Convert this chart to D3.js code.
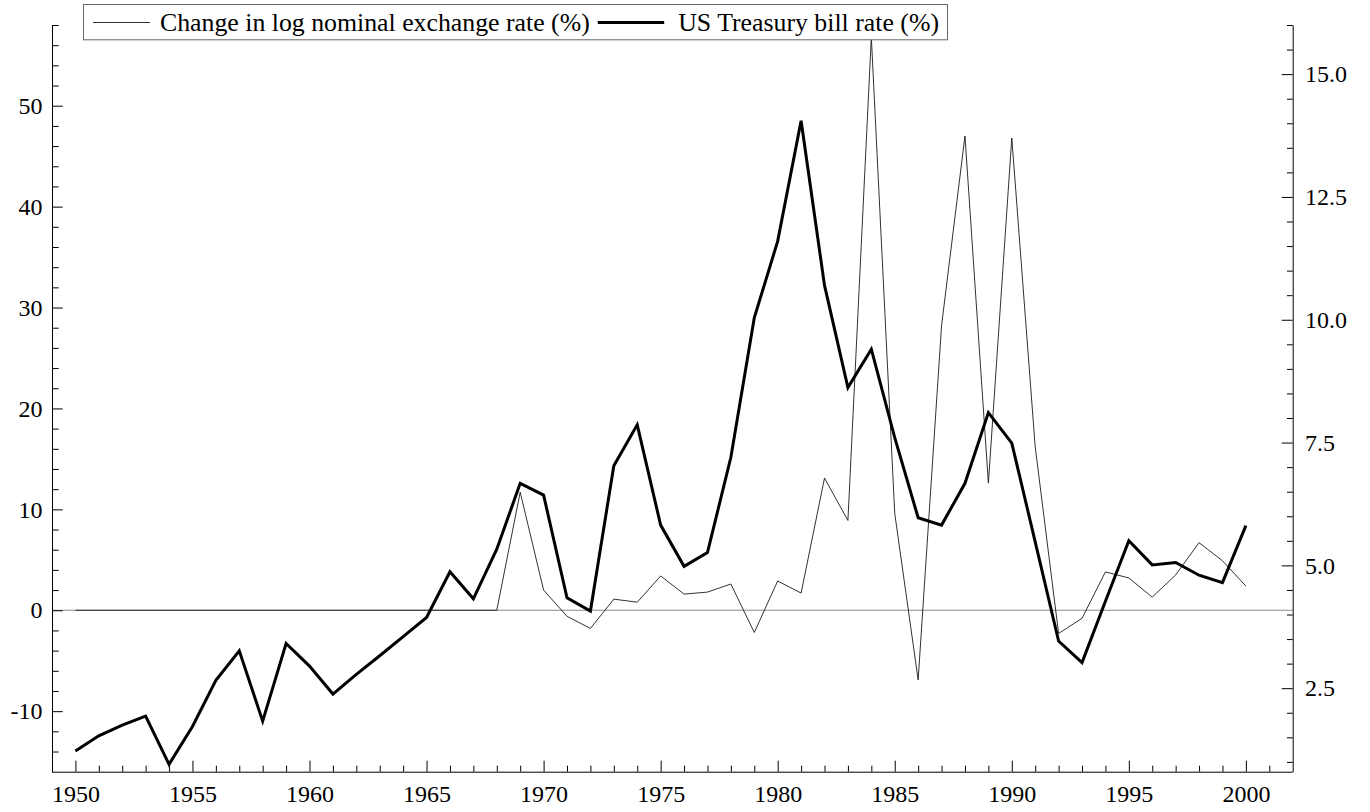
<!DOCTYPE html>
<html>
<head>
<meta charset="utf-8">
<script src="https://cdn.jsdelivr.net/npm/d3@7"></script>
<style>
  html, body { margin: 0; padding: 0; background: #fff; }
  svg { display: block; }
  text { font-family: "Liberation Serif", "Times New Roman", serif; fill: #000; }
</style>
</head>
<body>
<svg id="chart" width="1370" height="812"></svg>
<script>
// ---- data ----
const years = [1950,1951,1952,1953,1954,1955,1956,1957,1958,1959,
               1960,1961,1962,1963,1964,1965,1966,1967,1968,1969,
               1970,1971,1972,1973,1974,1975,1976,1977,1978,1979,
               1980,1981,1982,1983,1984,1985,1986,1987,1988,1989,
               1990,1991,1992,1993,1994,1995,1996,1997,1998,1999,2000];

// Change in log nominal exchange rate (%) — left axis
const exchangeChange = [0,0,0,0,0,0,0,0,0,0,
                        0,0,0,0,0,0,0,0,0,11.7,
                        2.0,-0.6,-1.8,1.1,0.8,3.4,1.6,1.8,2.6,-2.2,
                        2.9,1.7,13.1,8.9,56.8,9.6,-6.9,28.2,47.0,12.6,
                        46.8,16.2,-2.3,-0.8,3.8,3.2,1.3,3.5,6.7,4.9,2.4];

// US Treasury bill rate (%) — right axis
const tbillRate = [1.22,1.53,1.75,1.93,0.95,1.72,2.66,3.26,1.83,3.41,
                   2.95,2.38,2.78,3.16,3.55,3.94,4.87,4.32,5.33,6.67,
                   6.43,4.34,4.07,7.03,7.86,5.82,4.98,5.26,7.20,10.04,
                   11.60,14.05,10.70,8.62,9.40,7.60,5.97,5.82,6.67,8.11,
                   7.49,5.48,3.46,3.02,4.27,5.50,5.01,5.06,4.80,4.65,5.81];

const seriesNames = ["Change in log nominal exchange rate (%)", "US Treasury bill rate (%)"];

const xTicks = [1950,1955,1960,1965,1970,1975,1980,1985,1990,1995,2000];
const xTickLabels = ["1950","1955","1960","1965","1970","1975","1980","1985","1990","1995","2000"];
const leftTicks = [-10,0,10,20,30,40,50];
const leftTickLabels = ["-10","0","10","20","30","40","50"];
const rightTicks = [2.5,5,7.5,10,12.5,15];
const rightTickLabels = ["2.5","5.0","7.5","10.0","12.5","15.0"];

// ---- layout ----
const svg = d3.select("#chart");
const L = 52, R = 1292.7, T = 25, B = 771.7;

const x = d3.scaleLinear().domain([1949, 2002]).range([L, R]);
const yL = d3.scaleLinear().domain([-16, 58]).range([B, T]);
const yR = d3.scaleLinear().domain([0.8, 16]).range([B, T]);

const FS = 24;

const xMinor = years.filter(y => xTicks.indexOf(y) < 0).concat([2001]);
const leftMinor = d3.range(-14, 58.01, 2).filter(v => v % 10 !== 0);
const rightMinor = d3.range(1, 16.01, 0.5).filter(v => Math.abs(v / 2.5 - Math.round(v / 2.5)) > 1e-6);

function styleAxis(g) {
  g.attr("font-family", null).attr("font-size", null);
  g.selectAll("path.domain").attr("stroke", "#000").attr("stroke-width", 1);
  g.selectAll(".tick line").attr("stroke", "#000").attr("stroke-width", 1);
  g.selectAll(".tick text").style("font-size", FS + "px")
    .style("font-family", '"Liberation Serif", "Times New Roman", serif').attr("fill", "#000");
}

// zero line
svg.append("line")
  .attr("x1", L).attr("x2", R)
  .attr("y1", yL(0)).attr("y2", yL(0))
  .attr("stroke", "#8a8a8a").attr("stroke-width", 1);

// bottom axis
const gx = svg.append("g").attr("transform", `translate(0,${B})`)
  .call(d3.axisBottom(x).tickValues(xTicks).tickFormat((d, i) => xTickLabels[i])
    .tickSizeInner(-11).tickSizeOuter(0).tickPadding(13));
styleAxis(gx);
gx.select("path.domain").attr("d", `M${L},0.5H${R}`);
const gxm = svg.append("g").attr("transform", `translate(0,${B})`)
  .call(d3.axisBottom(x).tickValues(xMinor).tickFormat("").tickSizeInner(-6).tickSizeOuter(0));
gxm.select("path.domain").remove();
styleAxis(gxm);

// left axis
const gl = svg.append("g").attr("transform", `translate(${L},0)`)
  .call(d3.axisLeft(yL).tickValues(leftTicks).tickFormat((d, i) => leftTickLabels[i])
    .tickSizeInner(-10.7).tickSizeOuter(0).tickPadding(9.5));
styleAxis(gl);
const glm = svg.append("g").attr("transform", `translate(${L},0)`)
  .call(d3.axisLeft(yL).tickValues(leftMinor).tickFormat("").tickSizeInner(-6.7).tickSizeOuter(0));
glm.select("path.domain").remove();
styleAxis(glm);

// right axis
const gr = svg.append("g").attr("transform", `translate(${R},0)`)
  .call(d3.axisRight(yR).tickValues(rightTicks).tickFormat((d, i) => rightTickLabels[i])
    .tickSizeInner(-11).tickSizeOuter(0).tickPadding(12.3));
styleAxis(gr);
const grm = svg.append("g").attr("transform", `translate(${R},0)`)
  .call(d3.axisRight(yR).tickValues(rightMinor).tickFormat("").tickSizeInner(-5.7).tickSizeOuter(0));
grm.select("path.domain").remove();
styleAxis(grm);

// lines
const thinLine = d3.line().x((d, i) => x(years[i])).y(d => yL(d));
const thickLine = d3.line().x((d, i) => x(years[i])).y(d => yR(d));

svg.append("path").datum(exchangeChange)
  .attr("d", thinLine).attr("fill", "none")
  .attr("stroke", "#1a1a1a").attr("stroke-width", 0.9);

svg.append("path").datum(tbillRate)
  .attr("d", thickLine).attr("fill", "none")
  .attr("stroke", "#000").attr("stroke-width", 3).attr("stroke-linejoin", "miter");

// legend
const leg = svg.append("g");
const boxX = 83, boxY = 4, boxR = 947, boxB = 39.3;
leg.append("rect").attr("x", boxX + 0.5).attr("y", boxY + 0.5)
  .attr("width", boxR - boxX).attr("height", boxB - boxY)
  .attr("fill", "#fff").attr("stroke", "#666").attr("stroke-width", 1);

const LFS = 25.8, legBase = 31, legLineY = 22.5;
leg.append("line").attr("x1", 93).attr("x2", 150).attr("y1", legLineY).attr("y2", legLineY)
  .attr("stroke", "#1a1a1a").attr("stroke-width", 0.9);
const t1 = leg.append("text").attr("x", 160).attr("y", legBase).style("font-size", LFS + "px").text(seriesNames[0]);
const t1end = 160 + t1.node().getComputedTextLength();

const t2 = leg.append("text").attr("x", boxR - 8).attr("y", legBase)
  .attr("text-anchor", "end").style("font-size", LFS + "px").text(seriesNames[1]);
const t2start = boxR - 8 - t2.node().getComputedTextLength();
leg.append("line").attr("x1", t1end + 8).attr("x2", t2start - 14)
  .attr("y1", legLineY).attr("y2", legLineY)
  .attr("stroke", "#000").attr("stroke-width", 3);
</script>
</body>
</html>
